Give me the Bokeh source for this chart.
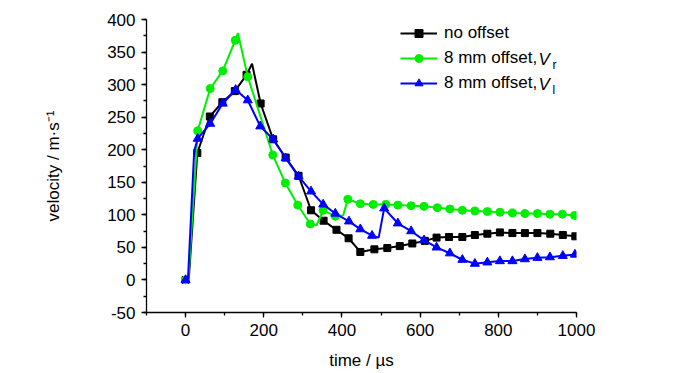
from bokeh.plotting import figure
from bokeh.models import Range1d, Legend, LegendItem, Label, SingleIntervalTicker, PrintfTickFormatter
from bokeh.embed import file_html
from bokeh.resources import INLINE

# ---- data (time in µs, velocity in m/s) ----
t_none = [0, 30, 62, 94, 126, 156, 192, 224, 256, 289, 321, 353, 386, 417, 447, 483, 516, 548,
          580, 612, 642, 674, 708, 740, 772, 804, 836, 868, 900, 933, 965, 997]
v_none = [0, 195, 251, 273, 290, 315, 271, 216, 188, 160, 107, 91, 77, 64, 43, 47, 49, 52,
          56, 60, 65, 66, 66, 69, 71, 73, 72, 72, 72, 71, 69, 67]
t_none_extra = [8, 170]
v_none_extra = [0, 332]

t_r = [0, 31, 63, 95, 127, 159, 223, 255, 287, 319, 352, 383, 415, 447, 480, 512, 543, 577,
       610, 644, 676, 708, 740, 772, 804, 836, 868, 900, 932, 964, 995]
v_r = [0, 229, 294, 321, 368, 312, 192, 149, 115, 86, 107, 98, 124, 117, 116, 116, 115, 114,
       113, 111, 109, 107, 106, 105, 104, 103, 102, 102, 101, 101, 99]
t_r_extra = [7, 134, 335, 403]
v_r_extra = [0, 379, 84, 99]

t_l = [0, 31, 63, 95, 128, 159, 191, 224, 256, 289, 321, 352, 383, 418, 447, 477, 508, 543,
       577, 610, 642, 676, 708, 740, 772, 804, 836, 868, 900, 932, 965, 996]
v_l = [0, 217, 240, 271, 292, 276, 236, 216, 187, 159, 136, 116, 102, 90, 78, 68, 110, 87,
       75, 61, 50, 41, 31, 25, 27, 29, 29, 32, 34, 35, 37, 39]
t_l_extra = [6, 22, 494]
v_l_extra = [0, 198, 65]

labels = ["no offset", "8 mm offset,", "8 mm offset,"]
subscripts = ["r", "l"]
colors = ["#000000", "#00ee00", "#0000ff"]


def merged(t, v, te, ve):
    pts = sorted(list(zip(t, v)) + list(zip(te, ve)))
    return [a for a, _ in pts], [b for _, b in pts]


FONT = "Liberation Sans"
FS = "17px"

p = figure(frame_width=430, frame_height=293,
           x_range=Range1d(-100, 1000), y_range=Range1d(-50, 400),
           output_backend="svg", toolbar_location=None,
           min_border_left=146, min_border_right=108,
           min_border_top=19, min_border_bottom=50)

series = [
    (t_none, v_none, t_none_extra, v_none_extra, "square", 7),
    (t_r, v_r, t_r_extra, v_r_extra, "circle", 8),
    (t_l, v_l, t_l_extra, v_l_extra, "triangle", 9),
]
items = []
for (t, v, te, ve, mk, sz), lab, col in zip(series, labels, colors):
    lt, lv = merged(t, v, te, ve)
    ln = p.line(lt, lv, line_color=col, line_width=2)
    sc = p.scatter(t, v, marker=mk, size=sz, fill_color=col, line_color=col)
    items.append(LegendItem(label=lab, renderers=[ln, sc]))

legend = Legend(items=items, location=(254, 219), padding=0, margin=0, spacing=5,
                glyph_width=37, glyph_height=20, label_height=20, label_standoff=7,
                border_line_alpha=0, background_fill_alpha=0,
                label_text_font=FONT, label_text_font_size=FS,
                label_text_color="black")
p.add_layout(legend)

# italic V with subscript for the legend entries 2 and 3
for i, sub in enumerate(subscripts):
    ycen = 253 - 25 * i
    p.add_layout(Label(x=392, y=ycen, x_units="screen", y_units="screen", text="V",
                       text_font=FONT, text_font_style="italic", text_font_size=FS,
                       text_baseline="middle", text_color="black"))
    p.add_layout(Label(x=406, y=ycen - 5, x_units="screen", y_units="screen", text=sub,
                       text_font=FONT, text_font_size="12px",
                       text_baseline="middle", text_color="black"))

p.xgrid.visible = False
p.ygrid.visible = False
p.outline_line_color = None
p.background_fill_color = "white"
p.border_fill_color = "white"

p.xaxis.ticker = SingleIntervalTicker(interval=200, num_minor_ticks=2)
p.yaxis.ticker = SingleIntervalTicker(interval=50, num_minor_ticks=2)
p.xaxis.formatter = PrintfTickFormatter(format="%d")
p.yaxis.formatter = PrintfTickFormatter(format="%d")
p.xaxis.axis_label = "time / µs"
p.yaxis.axis_label = "velocity / m·s⁻¹"

for ax in (p.xaxis[0], p.yaxis[0]):
    ax.axis_line_color = "black"
    ax.axis_line_width = 1.3
    ax.major_tick_line_color = "black"
    ax.minor_tick_line_color = "black"
    ax.major_tick_line_width = 1.3
    ax.minor_tick_line_width = 1.3
    ax.major_tick_out = 5
    ax.major_tick_in = 0
    ax.minor_tick_out = 3
    ax.minor_tick_in = 0
    ax.major_label_text_font = FONT
    ax.major_label_text_font_size = FS
    ax.major_label_text_color = "black"
    ax.axis_label_text_font = FONT
    ax.axis_label_text_font_size = FS
    ax.axis_label_text_font_style = "normal"
    ax.axis_label_text_color = "black"
    ax.major_label_standoff = 6
p.xaxis.axis_label_standoff = 12
p.yaxis.axis_label_standoff = 41

open("out.html", "w").write(file_html(p, INLINE))
